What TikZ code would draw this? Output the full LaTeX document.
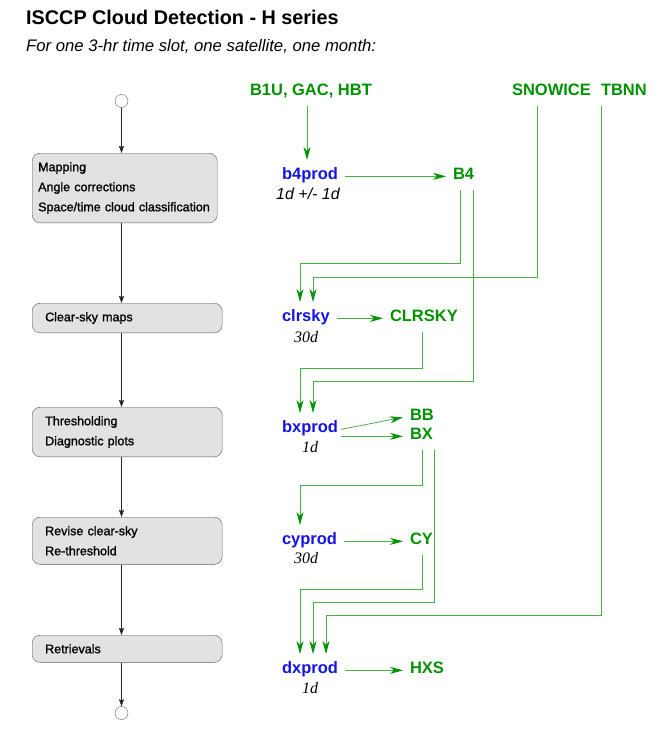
\documentclass[tikz,border=0pt]{standalone}
\usepackage{fontspec}
\setmainfont{Liberation Sans}
\newfontfamily\timesit{Liberation Serif}
\newfontfamily\boxfont[FakeBold=1.2]{Liberation Sans}
\usetikzlibrary{arrows.meta}

\definecolor{boxfill}{RGB}{226,226,226}
\definecolor{boxline}{RGB}{90,90,90}
\definecolor{progblue}{RGB}{20,20,225}
\definecolor{datagreen}{RGB}{0,145,0}
\definecolor{linegreen}{RGB}{70,175,70}

\tikzset{
  stepbox/.style={draw=boxline, fill=boxfill, rounded corners=8pt, anchor=north west,
    align=left, font=\fontsize{12.5}{20}\boxfont\selectfont, inner ysep=9pt},
  label/.style={anchor=base west, text height=12pt, text depth=3.5pt, inner sep=2pt, outer sep=5pt,
    font=\fontsize{16.5}{20}\selectfont\bfseries},
  prog/.style={label, text=progblue},
  data/.style={label, text=datagreen},
  period/.style={anchor=base west, inner sep=0pt, font=\fontsize{16}{20}\selectfont\timesit\itshape},
  flow/.style={draw=black!85, line width=0.6pt, -{Stealth[length=7pt,width=5pt,inset=1pt]}},
  feed/.style={draw=linegreen, line width=0.8pt, -{Stealth[length=13pt,width=7pt,inset=4pt,color=datagreen]}},
  endpoint/.style={circle, draw=boxline, fill=white, minimum size=13pt, inner sep=0pt}
}

\begin{document}
\begin{tikzpicture}[x=1pt,y=-1pt]
\useasboundingbox (0,0) rectangle (670,729);

% titles
\node[anchor=base west, inner sep=0pt, font=\fontsize{19.8}{22}\selectfont\bfseries] (title) at (26,24) {ISCCP Cloud Detection - H series};
\node[anchor=base west, inner sep=0pt, font=\fontsize{16.7}{18}\selectfont\itshape] (subtitle) at (26,51) {For one 3-hr time slot, one satellite, one month:};

% processing steps
\node[endpoint] (start) at (121.5,101) {};
\node[stepbox, text width=173pt, inner xsep=6pt] (map) at (32,153) {Mapping\\Angle corrections\\Space/time cloud classification};
\node[stepbox, text width=164pt, inner xsep=13pt] (clear) at (32,303) {Clear-sky maps};
\node[stepbox, text width=164pt, inner xsep=13pt] (thresh) at (32,407) {Thresholding\\Diagnostic plots};
\node[stepbox, text width=164pt, inner xsep=13pt] (revise) at (32,517) {Revise clear-sky\\Re-threshold};
\node[stepbox, text width=164pt, inner xsep=13pt] (retr) at (32,635) {Retrievals};
\node[endpoint] (stop) at (121.5,713) {};

\draw[flow] (start) -- (start |- map.north);
\draw[flow] (start |- map.south) -- (start |- clear.north);
\draw[flow] (start |- clear.south) -- (start |- thresh.north);
\draw[flow] (start |- thresh.south) -- (start |- revise.north);
\draw[flow] (start |- revise.south) -- (start |- retr.north);
\draw[flow] (start |- retr.south) -- (stop);

% inputs
\node[data] (inputs) at (243,95) {B1U, GAC, HBT};
\node[data] (snowice) at (505,95) {SNOWICE};
\node[data] (tbnn) at (594,95) {TBNN};

% programs and products
\node[prog] (b4prod) at (275,179) {b4prod};
\node[anchor=base west, inner sep=0pt, font=\fontsize{16}{20}\selectfont\itshape] (b4time) at (276,199) {1d +/- 1d};
\node[data] (B4) at (446,179) {B4};

\node[prog] (clrsky) at (275,321) {clrsky};
\node[period] (clrtime) at (294,342) {30d};
\node[data] (CLRSKY) at (383,321) {CLRSKY};

\node[prog] (bxprod) at (275,432) {bxprod};
\node[period] (bxtime) at (302,452) {1d};
\node[data] (BB) at (403,420) {BB};
\node[data] (BX) at (403,439) {BX};

\node[prog] (cyprod) at (275,544) {cyprod};
\node[period] (cytime) at (294,563) {30d};
\node[data] (CY) at (403,544) {CY};

\node[prog] (dxprod) at (275,673) {dxprod};
\node[period] (dxtime) at (302,693) {1d};
\node[data] (HXS) at (403,673) {HXS};

% data flow
\draw[feed] (inputs.south -| 307,0) -- (b4prod.north -| 307,0);
\draw[feed] (b4prod.mid east) -- (B4.mid west |- b4prod.mid east);
\draw[feed] (clrsky.mid east) -- (CLRSKY.mid west |- clrsky.mid east);
\draw[feed] ([xshift=-4pt]bxprod.mid east) -- (BB.mid west);
\draw[feed] ([xshift=-4pt]bxprod.mid east |- BX.mid west) -- (BX.mid west);
\draw[feed] (cyprod.mid east) -- (CY.mid west |- cyprod.mid east);
\draw[feed] (dxprod.mid east) -- (HXS.mid west |- dxprod.mid east);

\draw[feed] (B4.south -| 460,0) -- (460,263) -| (clrsky.north -| 300,0);
\draw[feed] (snowice.south -| 537,0) -- (537,277) -| (clrsky.north -| 313,0);
\draw[feed] (CLRSKY.south -| 422,0) -- (422,368) -| (bxprod.north -| 300,0);
\draw[feed] (B4.south -| 473,0) -- (473,381) -| (bxprod.north -| 313,0);
\draw[feed] (BX.south -| 422,0) -- (422,485) -| (cyprod.north -| 300,0);
\draw[feed] (CY.south -| 422,0) -- (422,589) -| (dxprod.north -| 300,0);
\draw[feed] (BX.south -| 434,0) -- (434,602) -| (dxprod.north -| 313,0);
\draw[feed] (tbnn.south -| 601,0) -- (601,615) -| (dxprod.north -| 326,0);
\end{tikzpicture}
\end{document}
